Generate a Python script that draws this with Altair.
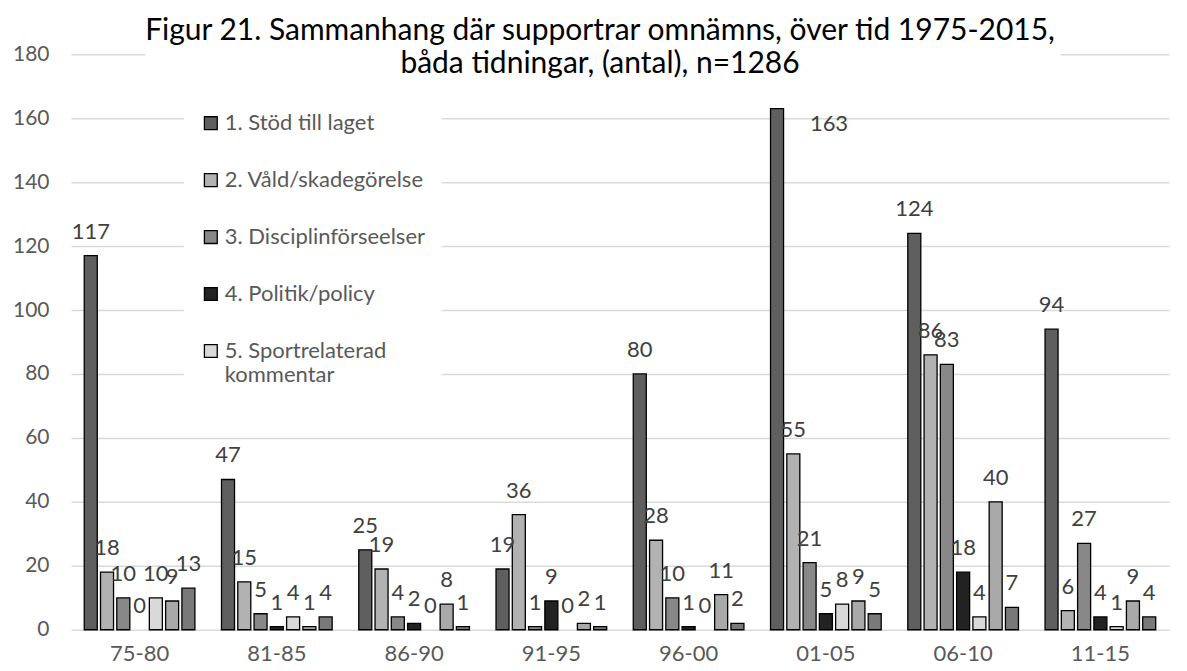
import altair as alt
import pandas as pd

periods = ["75-80", "81-85", "86-90", "91-95", "96-00", "01-05", "06-10", "11-15"]
series_names = [
    "1. Stöd till laget",
    "2. Våld/skadegörelse",
    "3. Disciplinförseelser",
    "4. Politik/policy",
    "5. Sportrelaterad kommentar",
    "6. Serie 6",
    "7. Serie 7",
]
s1 = [117, 47, 25, 19, 80, 163, 124, 94]
s2 = [18, 15, 19, 36, 28, 55, 86, 6]
s3 = [10, 5, 4, 1, 10, 21, 83, 27]
s4 = [0, 1, 2, 9, 1, 5, 18, 4]
s5 = [10, 4, 0, 0, 0, 8, 4, 1]
s6 = [9, 1, 8, 2, 11, 9, 40, 9]
s7 = [13, 4, 1, 1, 2, 5, 7, 4]
series_values = [s1, s2, s3, s4, s5, s6, s7]
colors = ["#5f5f5f", "#b2b2b2", "#888888", "#222222", "#d9d9d9", "#a9a9a9", "#797979"]
y_ticks = [0, 20, 40, 60, 80, 100, 120, 140, 160, 180]

rows = []
for name, vals in zip(series_names, series_values):
    for p, v in zip(periods, vals):
        rows.append({"period": p, "serie": name, "value": v})
df = pd.DataFrame(rows)

FONT = "Lato"

x = alt.X(
    "period:N", sort=periods, title=None,
    scale=alt.Scale(paddingInner=0.17, paddingOuter=0.085),
    axis=alt.Axis(labelAngle=0, labelFont=FONT, labelFontSize=22, labelColor="#595959",
                  labelPadding=14, ticks=False, domain=False, grid=False),
)
xo = alt.XOffset("serie:N", sort=series_names,
                 scale=alt.Scale(paddingInner=0.2, paddingOuter=0.1))
y = alt.Y(
    "value:Q", title=None,
    scale=alt.Scale(domain=[0, 180], nice=False),
    axis=alt.Axis(values=y_ticks, domain=False, ticks=False, labelFont=FONT,
                  labelFontSize=21, labelColor="#595959", labelPadding=22,
                  gridColor="#d9d9d9", gridWidth=1.5,
                  gridDash={"condition": {"test": "datum.value === 180", "value": [74, 916, 300]},
                            "value": []}),
)

bars = alt.Chart(df).transform_filter("datum.value > 0").mark_bar(
    stroke="black", strokeWidth=1.3
).encode(
    x=x, xOffset=xo, y=y,
    color=alt.Color(
        "serie:N",
        scale=alt.Scale(domain=series_names, range=colors),
        legend=alt.Legend(
            values=series_names[:5], title=None, orient="none",
            legendX=113, legendY=42, fillColor="white", padding=16,
            labelFont=FONT, labelFontSize=22, labelColor="#595959",
            symbolType="square", symbolSize=165, symbolStrokeColor="black",
            symbolStrokeWidth=1.3, rowPadding=35, labelOffset=3, labelLimit=400,
            labelExpr="datum.label == '5. Sportrelaterad kommentar' ? ['5. Sportrelaterad', 'kommentar'] : datum.label",
        ),
    ),
)

labels = alt.Chart(df).mark_text(
    baseline="alphabetic", font=FONT, fontSize=22, color="#404040",
    dx=alt.expr("datum.value === 163 ? 52 : 0"),
    dy=alt.expr("datum.value === 163 ? 22 : -17"),
).encode(x=x, xOffset=xo, y=y, text="value:Q")

chart = alt.layer(bars, labels).properties(
    width=1099, height=576,
    title=alt.TitleParams(
        text=["Figur 21. Sammanhang där supportrar omnämns, över tid 1975-2015,",
              "båda tidningar, (antal), n=1286"],
        font=FONT, fontSize=30, fontWeight="normal", color="black",
        anchor="middle", dx=-20, offset=-36, lineHeight=33,
    ),
    padding={"left": 63, "top": 46, "right": 10, "bottom": 41},
    autosize=alt.AutoSizeParams(type="none"),
).configure_view(stroke=None)

chart.save("out.html", embed_options={"renderer": "svg", "actions": False})
